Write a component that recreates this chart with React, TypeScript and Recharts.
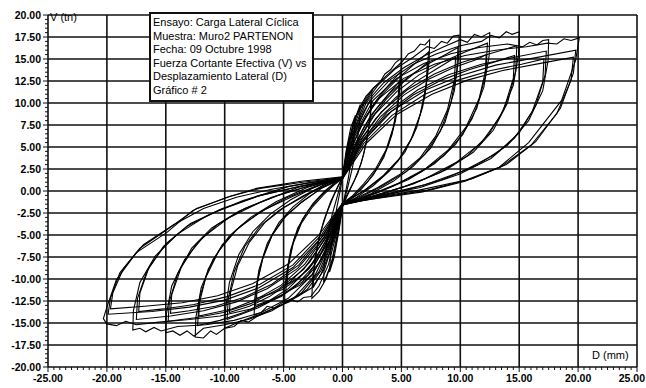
import React from "react";
import { LineChart, Line, XAxis, YAxis, ReferenceLine } from "recharts";

// Ensayo cíclico — ciclos, [D (mm), V (tn)]
const cycleSmall1: [number, number][] = [
  [0, 1.6], [0.3, 4.5], [0.7, 7.2], [1.1, 8.6], [1.0, 6.5], [0.8, 4], [0.5, 1.5], [0.2, -0.5], [0, -1.8],
  [-0.3, -4.5], [-0.7, -7.5], [-1.1, -9.2], [-1.0, -7], [-0.8, -4.5], [-0.5, -2], [-0.2, 0], [0, 1.6],
];
const cycleSmall2: [number, number][] = [
  [0, 1.6], [0.4, 4.8], [0.9, 7.6], [1.5, 9.8], [1.45, 7.8], [1.2, 5], [0.8, 2.4], [0.4, 0.2], [0, -1.8],
  [-0.4, -5], [-0.9, -8.2], [-1.6, -10.4], [-1.55, -8.2], [-1.3, -5.4], [-0.9, -2.8], [-0.4, -0.4], [0, 1.6],
];
const cycle25a: [number, number][] = [
  [0, 1.6], [0.4, 4.8], [0.9, 7.6], [1.5, 9.6], [2.0, 10.8], [2.5, 11.5], [2.45, 9.5], [2.2, 6.8], [1.8, 4.2],
  [1.3, 2], [0.7, 0.3], [0, -1.7], [-0.4, -4.6], [-0.9, -7.9], [-1.4, -10], [-2, -11.4], [-2.6, -12.2],
  [-2.55, -10.2], [-2.3, -7.4], [-1.9, -4.8], [-1.3, -2.4], [-0.7, -0.4], [0, 1.6],
];
const cycle25b: [number, number][] = [
  [0, 1.5], [0.5, 4.2], [1.1, 6.8], [1.8, 9], [2.4, 10.4], [2.35, 8.3], [2.05, 5.6], [1.6, 3.2], [1, 1.2],
  [0.4, -0.4], [0, -1.6], [-0.5, -4], [-1.1, -7], [-1.8, -9.4], [-2.5, -11], [-2.4, -8.8], [-2.1, -6],
  [-1.6, -3.4], [-1, -1.2], [-0.4, 0.5], [0, 1.5],
];
const cycle5a: [number, number][] = [
  [0, 1.6], [0.5, 5.5], [1.2, 8.6], [2, 10.6], [2.6, 11.7], [3.2, 12.4], [3.6, 13.3], [4.1, 13.8], [4.5, 14.6], [5, 15.1],
  [4.95, 12.8], [4.7, 9.6], [4.2, 6.4], [3.5, 3.8], [2.6, 1.8], [1.6, 0.2], [0.7, -0.9], [0, -1.6],
  [-0.5, -4.8], [-1.2, -8.4], [-2, -10.8], [-2.7, -12], [-3.3, -12.1], [-3.8, -12.6], [-4.3, -12.4], [-4.9, -12.7],
  [-4.9, -11], [-4.6, -8.2], [-4.1, -5.4], [-3.4, -3.2], [-2.5, -1.4], [-1.5, 0], [-0.6, 1], [0, 1.6],
];
const cycle5b: [number, number][] = [
  [0, 1.5], [0.7, 4.6], [1.6, 7.6], [2.6, 9.8], [3.5, 11.4], [4.3, 12.6], [4.9, 13.5], [4.8, 11], [4.5, 8],
  [3.9, 5.2], [3.1, 2.9], [2.1, 1], [1, -0.5], [0, -1.5], [-0.7, -4.4], [-1.6, -7.4], [-2.6, -9.5],
  [-3.6, -10.7], [-4.8, -11.5], [-4.75, -9.5], [-4.4, -6.7], [-3.8, -4.2], [-2.9, -2.2], [-1.8, -0.5],
  [-0.8, 0.7], [0, 1.5],
];
const cycle5c: [number, number][] = [
  [0, 1.4], [0.8, 4.4], [1.8, 7.2], [2.9, 9.4], [3.9, 11], [4.8, 12.4], [4.7, 10], [4.3, 7.2], [3.7, 4.7],
  [2.8, 2.5], [1.8, 0.8], [0.8, -0.6], [0, -1.4], [-0.8, -4.2], [-1.8, -7], [-2.9, -8.9], [-3.9, -10],
  [-4.7, -10.6], [-4.6, -8.6], [-4.2, -6], [-3.5, -3.7], [-2.6, -1.9], [-1.6, -0.4], [-0.7, 0.7], [0, 1.4],
];
const cycle75a: [number, number][] = [
  [0, 1.6], [0.6, 5.8], [1.5, 9.3], [2.6, 11.6], [3.8, 13.2], [5, 14.6], [5.6, 15.6], [6.1, 15.9], [6.6, 16.7], [7, 16.6], [7.4, 17.2],
  [7.35, 14.6], [7, 10.8], [6.3, 7.2], [5.3, 4.4], [4, 2.3], [2.6, 0.6], [1.2, -0.7], [0, -1.6],
  [-0.6, -5], [-1.5, -8.8], [-2.6, -11], [-3.8, -12], [-5, -12.6], [-5.8, -13.3], [-6.4, -13.1], [-6.9, -13.8], [-7.5, -14.1],
  [-7.45, -12.2], [-7.1, -9], [-6.4, -6], [-5.4, -3.6], [-4.2, -1.8], [-2.8, -0.3], [-1.3, 0.9], [0, 1.6],
];
const cycle75b: [number, number][] = [
  [0, 1.5], [0.8, 5], [2, 8.5], [3.4, 11], [4.8, 12.9], [6, 14.3], [7.3, 15.8], [7.2, 13], [6.8, 9.5], [6, 6.3],
  [4.9, 3.8], [3.5, 1.8], [2, 0.2], [0, -1.5], [-0.8, -4.8], [-2, -8.2], [-3.4, -10.3], [-4.8, -11.6],
  [-6.1, -12.4], [-7.4, -13], [-7.3, -10.8], [-6.8, -7.8], [-6, -5.1], [-4.9, -3], [-3.5, -1.3], [-1.8, 0.3], [0, 1.5],
];
const cycle75c: [number, number][] = [
  [0, 1.4], [1, 4.8], [2.3, 8], [3.7, 10.4], [5.1, 12.3], [6.3, 13.6], [7.2, 14.6], [7.1, 12], [6.6, 8.7], [5.8, 5.8],
  [4.7, 3.4], [3.3, 1.5], [1.8, 0], [0, -1.4], [-1, -4.6], [-2.3, -7.8], [-3.7, -9.9], [-5.1, -11.2], [-6.3, -11.8],
  [-7.3, -12.2], [-7.2, -10.1], [-6.7, -7.3], [-5.9, -4.8], [-4.8, -2.8], [-3.4, -1.2], [-1.8, 0.3], [0, 1.4],
];
const cycle10a: [number, number][] = [
  [0, 1.6], [0.7, 6], [1.8, 9.8], [3, 12], [4.5, 13.9], [6, 15.2], [7.2, 16.4], [7.8, 16.2], [8.4, 17], [8.9, 16.8], [9.4, 17.6], [9.9, 17.7],
  [9.85, 15], [9.5, 11.4], [8.7, 7.8], [7.5, 4.9], [6, 2.8], [4.3, 1.1], [2.4, -0.3], [0, -1.6],
  [-0.7, -5.2], [-1.8, -9], [-3, -11.2], [-4.5, -12.6], [-6, -13.4], [-7.3, -14.3], [-8, -14.9], [-8.6, -14.7], [-9.2, -15.4], [-10, -15.6],
  [-9.95, -13.6], [-9.6, -10.4], [-8.8, -7.2], [-7.6, -4.6], [-6.1, -2.6], [-4.4, -1], [-2.3, 0.5], [0, 1.6],
];
const cycle10b: [number, number][] = [
  [0, 1.5], [1, 5.2], [2.4, 8.6], [4, 11.1], [5.6, 13], [7.2, 14.4], [8.6, 15.4], [9.8, 16.3], [9.7, 13.6], [9.2, 10],
  [8.3, 6.8], [7, 4.2], [5.4, 2.2], [3.4, 0.6], [1.4, -0.8], [0, -1.5], [-1, -5], [-2.4, -8.5], [-4, -10.8],
  [-5.6, -12.2], [-7.2, -13.3], [-8.6, -14], [-9.8, -14.6], [-9.7, -12.3], [-9.2, -9.2], [-8.3, -6.3], [-7, -4],
  [-5.4, -2.2], [-3.4, -0.6], [-1.4, 0.8], [0, 1.5],
];
const cycle10c: [number, number][] = [
  [0, 1.4], [1.2, 5], [2.8, 8.2], [4.5, 10.6], [6.2, 12.4], [7.9, 13.8], [9.6, 15.2], [9.5, 12.6], [8.9, 9.2],
  [7.9, 6.2], [6.6, 3.8], [5, 2], [3, 0.4], [1.2, -0.8], [0, -1.4], [-1.2, -4.8], [-2.8, -8.1], [-4.5, -10.4],
  [-6.2, -12], [-7.9, -13.1], [-9.6, -13.8], [-9.5, -11.5], [-8.9, -8.5], [-7.9, -5.8], [-6.6, -3.6], [-5, -1.9],
  [-3, -0.4], [-1.2, 0.8], [0, 1.4],
];
const cycle125a: [number, number][] = [
  [0, 1.6], [0.8, 6.2], [2, 10], [3.5, 12.3], [5.2, 14], [7, 15.4], [8.6, 16.4], [10, 17.2], [10.6, 16.9], [11.2, 17.8], [11.8, 17.5], [12.5, 18],
  [12.45, 15.4], [12, 11.8], [11, 8.2], [9.6, 5.3], [7.8, 3.1], [5.6, 1.3], [3, -0.2], [0, -1.6],
  [-0.8, -5.4], [-2, -9.2], [-3.5, -11.6], [-5.2, -13], [-7, -14], [-8.8, -14.9], [-10, -15.6], [-10.7, -16.3], [-11.2, -15.9], [-11.8, -16.7], [-12.5, -16.6],
  [-12.45, -14.4], [-12, -11], [-11, -7.8], [-9.6, -5.1], [-7.8, -3], [-5.6, -1.2], [-3, 0.4], [0, 1.6],
];
const cycle125b: [number, number][] = [
  [0, 1.5], [1.2, 5.4], [2.8, 8.8], [4.6, 11.3], [6.5, 13.2], [8.4, 14.6], [10.4, 15.8], [12.3, 16.8], [12.2, 14],
  [11.6, 10.5], [10.5, 7.3], [9, 4.7], [7.1, 2.6], [4.8, 0.9], [2.2, -0.5], [0, -1.5], [-1.2, -5.2], [-2.8, -8.7],
  [-4.6, -11.1], [-6.5, -12.7], [-8.4, -13.8], [-10.4, -14.7], [-12.3, -15.3], [-12.2, -13], [-11.6, -9.8],
  [-10.5, -6.8], [-9, -4.4], [-7.1, -2.5], [-4.8, -0.8], [-2.2, 0.6], [0, 1.5],
];
const cycle125c: [number, number][] = [
  [0, 1.4], [1.4, 5.2], [3.2, 8.4], [5.2, 10.9], [7.3, 12.7], [9.4, 14], [11.5, 15], [12.2, 15.5], [12.1, 12.9],
  [11.4, 9.4], [10.2, 6.4], [8.6, 4], [6.6, 2.1], [4.2, 0.5], [1.8, -0.7], [0, -1.4], [-1.4, -5], [-3.2, -8.3],
  [-5.2, -10.7], [-7.3, -12.3], [-9.4, -13.4], [-11.5, -14], [-12.2, -14.2], [-12.1, -12], [-11.4, -8.9],
  [-10.2, -6.1], [-8.6, -3.9], [-6.6, -2.1], [-4.2, -0.6], [-1.8, 0.7], [0, 1.4],
];
const cycle15a: [number, number][] = [
  [0, 1.6], [0.9, 6.3], [2.3, 10.2], [4, 12.6], [6, 14.4], [8, 15.6], [10, 16.5], [11.8, 17], [12.6, 17.7], [13.3, 17.4], [13.9, 18.1], [14.4, 17.8], [15, 18.1],
  [14.95, 15.6], [14.5, 12], [13.4, 8.5], [11.8, 5.5], [9.6, 3.2], [7, 1.4], [3.8, -0.2], [0, -1.6],
  [-0.9, -5.6], [-2.3, -9.5], [-4, -12], [-6, -13.6], [-8, -14.6], [-10, -15.2], [-11.8, -15.6], [-12.6, -16.5], [-13.2, -15.9], [-13.8, -16.4], [-14.4, -15.9], [-15, -16.1],
  [-14.95, -14], [-14.5, -10.8], [-13.4, -7.8], [-11.8, -5.2], [-9.6, -3], [-7, -1.3], [-3.8, 0.4], [0, 1.6],
];
const cycle15b: [number, number][] = [
  [0, 1.5], [1.4, 5.6], [3.3, 9], [5.5, 11.5], [7.8, 13.3], [10.1, 14.6], [12.5, 15.6], [14.8, 16.5], [14.7, 13.6],
  [14, 10], [12.8, 6.9], [11.1, 4.4], [8.8, 2.4], [6, 0.8], [2.8, -0.5], [0, -1.5], [-1.4, -5.3], [-3.3, -8.9],
  [-5.5, -11.2], [-7.8, -12.8], [-10.1, -13.8], [-12.5, -14.4], [-14.8, -14.8], [-14.7, -12.6], [-14, -9.4],
  [-12.8, -6.5], [-11.1, -4.2], [-8.8, -2.3], [-6, -0.7], [-2.8, 0.6], [0, 1.5],
];
const cycle15c: [number, number][] = [
  [0, 1.4], [1.6, 5.4], [3.7, 8.6], [6, 10.9], [8.4, 12.6], [10.8, 13.8], [13, 14.7], [14.6, 15.4], [14.5, 12.8],
  [13.7, 9.3], [12.4, 6.4], [10.6, 4], [8.3, 2.1], [5.5, 0.6], [2.5, -0.6], [0, -1.4], [-1.6, -5], [-3.7, -8.4],
  [-6, -10.6], [-8.4, -12.1], [-10.8, -13.1], [-13, -13.6], [-14.6, -13.9], [-14.5, -11.8], [-13.7, -8.7],
  [-12.4, -6], [-10.6, -3.8], [-8.3, -2], [-5.5, -0.5], [-2.5, 0.7], [0, 1.4],
];
const cycle175a: [number, number][] = [
  [0, 1.6], [1, 6.4], [2.6, 10.3], [4.6, 12.8], [6.9, 14.5], [9.2, 15.6], [11.6, 16.3], [14, 16.7], [15.3, 16.4], [15.9, 16.9], [16.5, 16.6], [17, 17.1], [17.5, 17.2],
  [17.45, 14.8], [17, 11.4], [15.8, 8], [14, 5.2], [11.5, 3], [8.5, 1.3], [4.6, -0.2], [0, -1.6],
  [-1, -5.7], [-2.6, -9.6], [-4.6, -12.2], [-6.9, -13.8], [-9.2, -14.7], [-11.6, -15.2], [-14, -15.4], [-15.4, -15.9], [-16, -15.5], [-16.7, -16], [-17.2, -15.6], [-17.8, -15.8],
  [-17.75, -13.6], [-17.2, -10.4], [-15.9, -7.4], [-14, -4.9], [-11.5, -2.8], [-8.5, -1.1], [-4.6, 0.5], [0, 1.6],
];
const cycle175b: [number, number][] = [
  [0, 1.5], [1.6, 5.6], [3.8, 9], [6.4, 11.5], [9, 13.2], [11.8, 14.4], [14.6, 15.2], [17.3, 15.9], [17.2, 13.2],
  [16.4, 9.7], [15, 6.6], [13, 4.2], [10.3, 2.3], [7, 0.7], [3.2, -0.5], [0, -1.5], [-1.6, -5.3], [-3.8, -8.8],
  [-6.4, -11.1], [-9, -12.6], [-11.8, -13.6], [-14.6, -14.2], [-17.5, -14.6], [-17.4, -12.2], [-16.6, -9.1],
  [-15.2, -6.3], [-13.2, -4], [-10.5, -2.2], [-7.2, -0.6], [-3.4, 0.6], [0, 1.5],
];
const cycle175c: [number, number][] = [
  [0, 1.4], [1.8, 5.4], [4.2, 8.6], [7, 11], [9.8, 12.6], [12.6, 13.7], [15.2, 14.4], [17.1, 15], [17, 12.4],
  [16.1, 9], [14.6, 6], [12.6, 3.7], [9.9, 1.9], [6.6, 0.4], [3, -0.6], [0, -1.4], [-1.8, -5], [-4.2, -8.4],
  [-7, -10.6], [-9.8, -12], [-12.6, -12.9], [-15.2, -13.4], [-17.3, -13.7], [-17.2, -11.6], [-16.4, -8.6],
  [-14.9, -5.9], [-12.9, -3.7], [-10.2, -2], [-7, -0.5], [-3.4, 0.6], [0, 1.4],
];
const cycle20a: [number, number][] = [
  [0, 1.6], [1.1, 6.4], [2.9, 10.3], [5.2, 12.8], [7.8, 14.4], [10.4, 15.4], [13, 16], [15.6, 16.4], [17.4, 16.8], [18.2, 16.7], [18.8, 17.3], [19.4, 17.1], [20.1, 17.4],
  [19.8, 14.9], [18.6, 10.3], [15.8, 5.5], [13.3, 2.7], [10.5, 1.25], [6.5, 0.1], [3, -0.7], [0, -1.6],
  [-1.1, -5.6], [-2.9, -9.5], [-5.2, -12], [-7.8, -13.4], [-10.4, -14.2], [-13, -14.6], [-15.6, -14.9], [-17.5, -15.2], [-18.4, -14.8], [-19.2, -15.3], [-20, -15.1], [-20.3, -14.5],
  [-20, -13.2], [-19.2, -10.1], [-17.5, -7], [-14.9, -4.7], [-12.7, -2.2], [-9.8, -0.7], [-7.3, 0.3], [-3.5, 1.1], [0, 1.6],
];
const cycle20b: [number, number][] = [
  [0, 1.5], [1.8, 5.7], [4.2, 9.1], [7.1, 11.5], [10, 13.1], [13, 14.3], [16.2, 15.1], [19.8, 16], [19.6, 13.4],
  [18.5, 9.4], [16.4, 5.6], [13.9, 3], [11, 1.4], [7.2, 0.1], [3.4, -0.7], [0, -1.5], [-1.8, -5.3], [-4.2, -8.7],
  [-7.1, -11], [-10, -12.4], [-13, -13.2], [-16.2, -13.7], [-19.9, -14], [-19.7, -12.2], [-18.9, -9.3],
  [-17.2, -6.5], [-14.7, -4.2], [-12.4, -2], [-9.5, -0.6], [-7, 0.3], [-3.4, 1], [0, 1.5],
];
const cycle20c: [number, number][] = [
  [0, 1.4], [2, 5.4], [4.6, 8.7], [7.6, 11], [10.6, 12.6], [13.6, 13.7], [16.8, 14.5], [19.6, 15.2], [19.4, 12.6],
  [18.2, 8.8], [16, 5.2], [13.4, 2.7], [10.4, 1.1], [6.8, -0.1], [3.2, -0.8], [0, -1.4], [-2, -5], [-4.6, -8.3],
  [-7.6, -10.5], [-10.6, -11.9], [-13.6, -12.7], [-16.8, -13.1], [-19.7, -13.4], [-19.5, -11.6], [-18.6, -8.8],
  [-16.9, -6.1], [-14.4, -3.9], [-11.8, -2], [-9, -0.7], [-6, 0.2], [-3, 0.9], [0, 1.4],
];

const cycles = [
  cycleSmall1, cycleSmall2, cycle25a, cycle25b, cycle5a, cycle5b, cycle5c, cycle75a, cycle75b, cycle75c,
  cycle10a, cycle10b, cycle10c, cycle125a, cycle125b, cycle125c, cycle15a, cycle15b, cycle15c,
  cycle175a, cycle175b, cycle175c, cycle20a, cycle20b, cycle20c,
];

const xGrid = [-20, -15, -10, -5, 0, 5, 10, 15, 20, 25];
const yGrid = [-17.5, -15, -12.5, -10, -7.5, -5, -2.5, 0, 2.5, 5, 7.5, 10, 12.5, 15, 17.5, 20];
const xTicks = Array.from({ length: 101 }, (_, i) => -25 + i * 0.5);
const yTicks = Array.from({ length: 81 }, (_, i) => -20 + i * 0.5);

const legendLines = [
  "Ensayo: Carga Lateral Cíclica",
  "Muestra: Muro2 PARTENON",
  "Fecha: 09 Octubre 1998",
  "Fuerza Cortante Efectiva (V) vs",
  "Desplazamiento Lateral (D)",
  "Gráfico # 2",
];

const FONT = '"Liberation Sans", Arial, sans-serif';
const INK = "#111";

const isMultiple = (v: number, step: number) => Math.abs(v / step - Math.round(v / step)) < 1e-6;

function XTick(props: any) {
  const { x, y, payload } = props;
  const major = isMultiple(payload.value, 5);
  const last = payload.value >= 25;
  return (
    <g>
      <line x1={x} x2={x} y1={y} y2={y + (major ? 5 : 3)} stroke={INK} strokeWidth={1} />
      {major && (
        <text
          x={last ? 645 : x}
          y={y + 15}
          textAnchor={last ? "end" : "middle"}
          fontSize={10.5}
          fontWeight="bold"
          fontFamily={FONT}
          fill="#000"
        >
          {payload.value.toFixed(2)}
        </text>
      )}
    </g>
  );
}

function YTick(props: any) {
  const { x, y, payload } = props;
  const major = isMultiple(payload.value, 2.5);
  return (
    <g>
      <line x1={x - (major ? 5 : 3)} x2={x} y1={y} y2={y} stroke={INK} strokeWidth={1} />
      {major && (
        <text x={x - 7} y={y + 4} textAnchor="end" fontSize={10.5} fontWeight="bold" fontFamily={FONT} fill="#000">
          {payload.value.toFixed(2)}
        </text>
      )}
    </g>
  );
}

export default function App() {
  return (
    <div style={{ position: "absolute", left: 0, top: 0, width: 646, height: 388, background: "#fff", fontFamily: FONT }}>
      <LineChart width={646} height={388} margin={{ top: 15, right: 9, left: 0, bottom: 0 }}>
        <XAxis
          type="number"
          dataKey="d"
          domain={[-25, 25]}
          ticks={xTicks}
          interval={0}
          tickSize={0}
          tickMargin={0}
          tickLine={false}
          tick={<XTick />}
          height={21}
          axisLine={{ stroke: INK, strokeWidth: 1.6 }}
          allowDataOverflow
        />
        <YAxis
          type="number"
          dataKey="v"
          domain={[-20, 20]}
          ticks={yTicks}
          interval={0}
          tickSize={0}
          tickMargin={0}
          tickLine={false}
          tick={<YTick />}
          width={48}
          axisLine={{ stroke: INK, strokeWidth: 1.6 }}
          allowDataOverflow
        />
        {xGrid.map((g) => (
          <ReferenceLine key={"x" + g} x={g} stroke={INK} strokeWidth={1.6} />
        ))}
        {yGrid.map((g) => (
          <ReferenceLine key={"y" + g} y={g} stroke={INK} strokeWidth={1.6} />
        ))}
        {cycles.map((c, i) => (
          <Line
            key={i}
            data={c.map(([d, v]) => ({ d, v }))}
            dataKey="v"
            type="linear"
            stroke="#000"
            strokeWidth={1.1}
            dot={false}
            activeDot={false}
            isAnimationActive={false}
          />
        ))}
      </LineChart>
      <div style={{ position: "absolute", left: 50, top: 11, fontSize: 11, color: "#000" }}>V (tn)</div>
      <div style={{ position: "absolute", left: 592, top: 349, fontSize: 11, color: "#000" }}>D (mm)</div>
      <div
        style={{
          position: "absolute",
          left: 149,
          top: 12,
          width: 159,
          height: 84,
          border: "2px solid #111",
          background: "#fff",
          padding: "2px 0 0 2px",
          boxSizing: "content-box",
        }}
      >
        {legendLines.map((t) => (
          <div key={t} style={{ fontSize: 11, lineHeight: "13.6px", color: "#000", whiteSpace: "nowrap" }}>
            {t}
          </div>
        ))}
      </div>
    </div>
  );
}
